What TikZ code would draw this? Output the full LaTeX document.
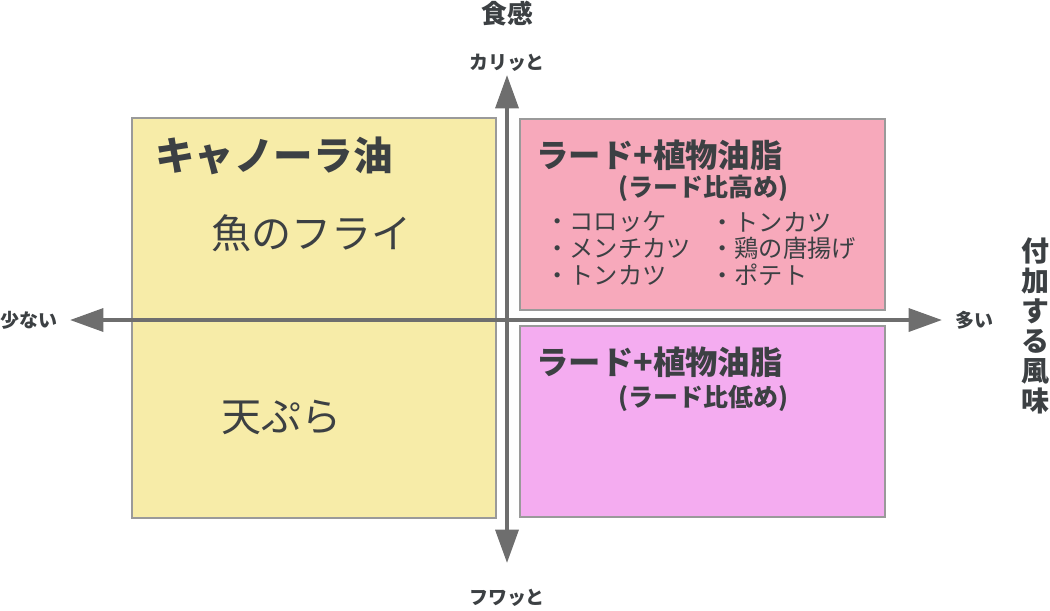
\documentclass[tikz,border=0pt]{standalone}
\usepackage{fontspec}
\setmainfont{Noto Sans CJK JP}
\usepackage{xcolor}
\usepackage{tikz}
\usetikzlibrary{arrows.meta, positioning}

\definecolor{canola}{HTML}{F7ECA8}
\definecolor{lardhi}{HTML}{F7A9BB}
\definecolor{lardlo}{HTML}{F4ACF0}
\definecolor{axisgray}{HTML}{6E6E6E}
\definecolor{textgray}{HTML}{3C4043}
\definecolor{framegray}{HTML}{9A9A9A}

\tikzset{
  quad/.style={draw=framegray, line width=0.6pt},
  axisline/.style={draw=axisgray, line width=2.3pt},
  lbl/.style={inner sep=0pt, text=textgray},
  axislbl/.style={lbl, font=\fontsize{10.8}{13}\selectfont\bfseries},
  axistitle/.style={lbl, font=\fontsize{14.7}{17}\selectfont\bfseries},
  bigtitle/.style={lbl, anchor=west, font=\fontsize{22.5}{26}\selectfont\bfseries},
  food/.style={lbl, anchor=west, font=\fontsize{22.8}{26}\selectfont},
  mixtitle/.style={lbl, anchor=west, font=\fontsize{18.4}{22}\selectfont\bfseries},
  ratio/.style={lbl, anchor=west, font=\fontsize{14.2}{17}\selectfont\bfseries},
  item/.style={lbl, anchor=west, font=\fontsize{13.8}{16}\selectfont}
}

\begin{document}
\begin{tikzpicture}[x=0.02cm, y=-0.02cm,
    >={Triangle[length=19pt, width=13pt]}]

    \useasboundingbox (0,0) rectangle (1050,610);

    % =================================================================
    % 1. FOUR QUADRANT BOXES
    % =================================================================
    \draw[quad, fill=canola] (132,118) rectangle (496,518);
    \draw[quad, fill=lardhi] (520,119) rectangle (885,310);
    \draw[quad, fill=lardlo] (520,326) rectangle (885,517);

    % =================================================================
    % 2. AXES (texture / added flavour)
    % =================================================================
    \coordinate (xleft)  at (70,320);
    \coordinate (xright) at (942,320);
    \coordinate (ytop)   at (507,75);
    \coordinate (ybot)   at (507,563);

    \draw[axisline, <->] (xleft) -- (xright);
    \draw[axisline, <->] (ybot) -- (ytop);

    % axis labels
    \node[axistitle] (texture) at (507,14) {食感};
    \node[axislbl] (crispy) at (507,63) {カリッと};
    \node[axislbl] (fluffy) at (507,598) {フワッと};
    \node[axislbl] (less) at (29,320) {少ない};
    \node[axislbl] (more) at (974,320) {多い};
    \node[lbl, align=center, font=\fontsize{15.9}{17}\selectfont\bfseries]
        (flavour) at (1035,326) {付\\加\\す\\る\\風\\味};

    % =================================================================
    % 3. TEXT IN THE BOXES
    % =================================================================
    % canola oil
    \node[bigtitle] (canolatitle) at (155,156) {キャノーラ油};
    \node[food] (fishfry) at (211,233) {魚のフライ};
    \node[food] (tempura) at (221,417) {天ぷら};

    % lard rich
    \node[mixtitle] (hititle) at (536,155) {ラード+植物油脂};
    \node[ratio] (hiratio) at (618,188) {(ラード比高め)};
    \node[item] (croquette) at (545,222) {・コロッケ};
    \node[item] (menchi)    at (545,248) {・メンチカツ};
    \node[item] (tonkatsua) at (545,275) {・トンカツ};
    \node[item] (tonkatsub) at (710,222) {・トンカツ};
    \node[item] (karaage)   at (710,248) {・鶏の唐揚げ};
    \node[item] (potato)    at (710,275) {・ポテト};

    % lard poor
    \node[mixtitle] (lotitle) at (536,362) {ラード+植物油脂};
    \node[ratio] (loratio) at (618,398) {(ラード比低め)};

\end{tikzpicture}
\end{document}
